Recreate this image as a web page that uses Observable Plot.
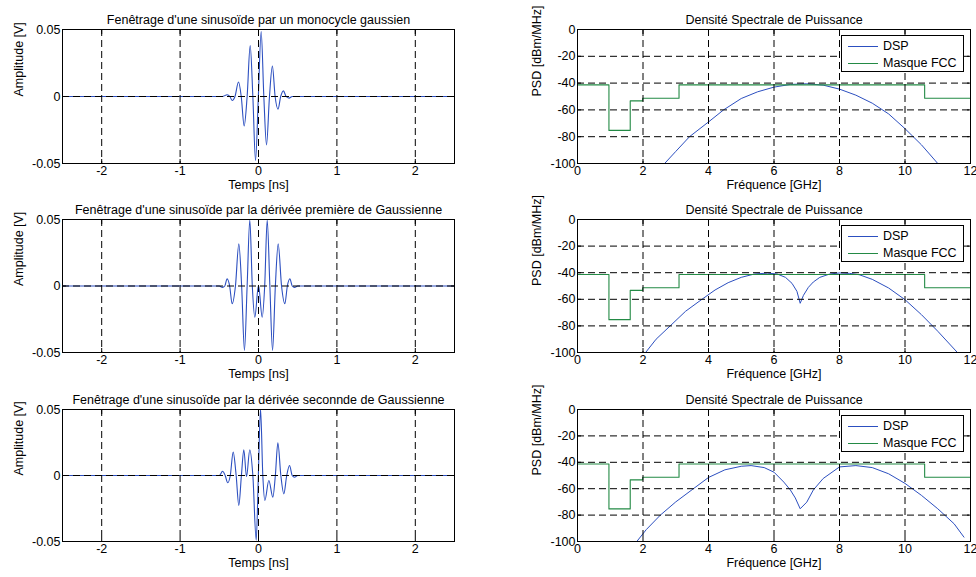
<!DOCTYPE html>
<html><head><meta charset="utf-8">
<script src="https://cdn.jsdelivr.net/npm/d3@7"></script>
<script src="https://cdn.jsdelivr.net/npm/@observablehq/plot@0.6"></script>
<style>
html,body{margin:0;padding:0;background:#fff;}
#wrap{position:relative;width:976px;height:577px;overflow:hidden;background:#fff;font-family:"Liberation Sans",Arial,sans-serif;}
.cell{position:absolute;}
.legend{position:absolute;width:121px;height:35px;border:1px solid #000;background:#fff;font-size:12.5px;color:#000;}
.legend .row{position:absolute;left:0;height:14px;line-height:14px;white-space:nowrap;}
.legend .sw{position:absolute;left:6px;width:30px;top:7px;height:0;border-top:1px solid;}
.legend .lb{position:absolute;left:41px;top:0;}
</style></head><body><div id="wrap"></div>
<script>
// ---- Waveforms (time in ns, amplitude in V) ----
const t1 = [-2.5, -0.46, -0.40, -0.365, -0.336, -0.30, -0.255, -0.22, -0.183, -0.145, -0.106, -0.072, -0.038, -0.002, 0.034, 0.068, 0.102, 0.14, 0.177, 0.212, 0.249, 0.283, 0.318, 0.352, 0.39, 0.43, 2.5];
const a1 = [0, 0, 0.0013, 0, -0.003, 0, 0.0108, 0, -0.022, 0, 0.038, 0, -0.0478, 0, 0.0485, 0, -0.0362, 0, 0.0228, 0, -0.0095, 0, 0.0042, 0, -0.0012, 0, 0];

const t2 = [-2.5, -0.50, -0.46, -0.43, -0.40, -0.368, -0.336, -0.294, -0.251, -0.215, -0.179, -0.145, -0.111, -0.079, -0.047, 0, 0.047, 0.079, 0.111, 0.145, 0.179, 0.215, 0.251, 0.294, 0.336, 0.368, 0.40, 0.43, 0.46, 0.50, 2.5];
const a2 = [0, 0, -0.001, 0, 0.0054, 0, -0.0134, 0, 0.0317, 0, -0.0485, 0, 0.0495, 0, -0.0235, 0.0005, -0.0235, 0, 0.0495, 0, -0.0485, 0, 0.0317, 0, -0.0134, 0, 0.0054, 0, -0.001, 0, 0];

const t3 = [-2.5, -0.50, -0.458, -0.425, -0.392, -0.36, -0.323, -0.285, -0.251, -0.218, -0.187, -0.153, -0.111, -0.072, -0.029, -0.002, 0.026, 0.055, 0.081, 0.132, 0.183, 0.215, 0.247, 0.285, 0.323, 0.36, 0.396, 0.43, 0.46, 0.50, 2.5];
const a3 = [0, 0, 0.0032, 0, -0.0055, 0, 0.0177, 0, -0.0227, 0, 0.0195, -0.001, 0.0195, 0, -0.049, 0, 0.0505, 0, -0.0189, -0.0038, -0.0164, 0, 0.0248, 0, -0.0139, 0, 0.0076, 0, -0.0013, 0, 0];

// ---- Power spectral densities (GHz, dBm/MHz) ----
const f1 = [2.66, 3.0, 3.42, 4.0, 4.46, 5.0, 5.5, 6.0, 6.5, 7.0, 7.5, 8.0, 8.5, 9.0, 9.5, 10.0, 10.5, 11.0];
const p1 = [-100, -91, -80, -69, -60, -51.5, -46.5, -43, -41, -40.5, -41.5, -44.5, -49, -55, -63, -74, -86, -100];

const f2 = [2.08, 2.4, 2.83, 3.3, 3.8, 4.2, 4.6, 5.0, 5.4, 5.8, 6.1, 6.35, 6.55, 6.7, 6.8, 6.9, 7.05, 7.2, 7.4, 7.7, 8.0, 8.3, 8.6, 9.0, 9.5, 10.0, 10.5, 11.0, 11.6];
const p2 = [-100, -90, -80, -69, -60, -53, -47.5, -43.5, -41, -40.3, -41, -43.5, -48, -54, -63, -57, -51, -47, -43.5, -41, -40.2, -40.5, -41.5, -45, -51.5, -60.3, -71.5, -84, -100];

const f3 = [1.81, 2.1, 2.53, 3.0, 3.54, 4.0, 4.5, 5.0, 5.3, 5.7, 6.0, 6.3, 6.5, 6.65, 6.8, 7.0, 7.2, 7.5, 8.0, 8.5, 9.0, 9.5, 10.0, 10.5, 11.0, 11.5, 11.8];
const p3 = [-100, -91, -80, -70, -60, -51.5, -45.7, -43, -42.5, -44, -47.5, -55, -61, -67, -75.2, -70.2, -61, -52.3, -43.5, -42.5, -44, -48.7, -56, -65, -75.2, -86.6, -96.7];

// ---- FCC indoor mask (step after) ----
const maskF = [0, 0.96, 1.61, 1.99, 3.1, 10.6, 12];
const maskP = [-41.3, -75.3, -53.3, -51.3, -41.3, -51.3, -51.3];

// ---- Ticks and labels ----
const timeTicks = [-2, -1, 0, 1, 2];
const timeTickLabels = ["-2", "-1", "0", "1", "2"];
const ampTicks = [-0.05, 0, 0.05];
const ampTickLabels = ["-0.05", "0", "0.05"];
const freqTicks = [0, 2, 4, 6, 8, 10, 12];
const freqTickLabels = ["0", "2", "4", "6", "8", "10", "12"];
const psdTicks = [-100, -80, -60, -40, -20, 0];
const psdTickLabels = ["-100", "-80", "-60", "-40", "-20", "0"];

const leftTitles = [
  "Fenêtrage d'une sinusoïde par un monocycle gaussien",
  "Fenêtrage d'une sinusoïde par la dérivée première de Gaussienne",
  "Fenêtrage d'une sinusoïde par la dérivée seconnde de Gaussienne"
];
const rightTitle = "Densité Spectrale de Puissance";
const timeLabel = "Temps [ns]";
const ampLabel = "Amplitude [V]";
const freqLabel = "Fréquence [GHz]";
const psdLabel = "PSD [dBm/MHz]";
const legendLabels = ["DSP", "Masque FCC"];

const BLUE = "#2c4fc0";
const GREEN = "#238a45";
const FONT = "'Liberation Sans', Arial, sans-serif";

const wrap = document.getElementById("wrap");

const rows = [
  {top: 0, height: 190, mB: 27},
  {top: 190, height: 190, mB: 28},
  {top: 380, height: 197, mB: 36}
];

function fmt(ticks, labels) { return d => { const i = ticks.indexOf(d); return i < 0 ? "" : labels[i]; }; }

function panel(o) {
  const marks = [
    ...o.series,
    Plot.gridX(o.xTicks, {stroke: "#000", strokeOpacity: 1, strokeWidth: 1, strokeDasharray: "7,4"}),
    Plot.gridY(o.yTicks, {stroke: "#000", strokeOpacity: 1, strokeWidth: 1, strokeDasharray: "7,4"}),
    Plot.frame({stroke: "#000", strokeWidth: 1}),
    Plot.axisX(o.xTicks, {anchor: "bottom", tickSize: -4, tickPadding: 7, tickFormat: fmt(o.xTicks, o.xLabels), label: null}),
    Plot.axisX(o.xTicks, {anchor: "top", tickSize: -4, tickFormat: () => "", label: null}),
    Plot.axisY(o.yTicks, {anchor: "left", tickSize: -4, tickPadding: 6, tickFormat: fmt(o.yTicks, o.yLabels), label: null}),
    Plot.axisY(o.yTicks, {anchor: "right", tickSize: -4, tickFormat: () => "", label: null}),
    Plot.text([o.title], {frameAnchor: "top", dy: -14, text: d => d, fill: "#000"}),
    Plot.text([o.xLabel], {frameAnchor: "bottom", dy: 25, text: d => d, fill: "#000"}),
    Plot.text([o.yLabel], {frameAnchor: "left", dx: o.yLabelDx, rotate: -90, text: d => d, fill: "#000"})
  ];
  const p = Plot.plot({
    width: o.width, height: o.height,
    marginLeft: o.mL, marginRight: o.mR, marginTop: o.mT, marginBottom: o.mB,
    x: {domain: o.xDomain},
    y: {domain: o.yDomain},
    style: {fontFamily: FONT, fontSize: "12.5px", background: "transparent", overflow: "visible", color: "#000"},
    marks
  });
  const cell = document.createElement("div");
  cell.className = "cell";
  cell.style.left = o.left + "px";
  cell.style.top = o.top + "px";
  cell.style.width = o.width + "px";
  cell.style.height = o.height + "px";
  cell.appendChild(p);
  wrap.appendChild(cell);
}

const waves = [[t1, a1], [t2, a2], [t3, a3]];
const dsps = [[f1, p1], [f2, p2], [f3, p3]];
const maskData = maskF.map((f, i) => ({f, p: maskP[i]}));

rows.forEach((r, k) => {
  const [tt, aa] = waves[k];
  const wave = tt.map((t, i) => ({t, a: aa[i]}));
  panel({
    left: 0, top: r.top, width: 490, height: r.height,
    mL: 62, mR: 36, mT: 29, mB: r.mB,
    xDomain: [-2.5, 2.5], yDomain: [-0.05, 0.05],
    xTicks: timeTicks, xLabels: timeTickLabels, yTicks: ampTicks, yLabels: ampTickLabels,
    title: leftTitles[k], xLabel: timeLabel, yLabel: ampLabel, yLabelDx: -44,
    series: [Plot.line(wave, {x: "t", y: "a", stroke: BLUE, strokeWidth: 1.1, curve: "monotone-x", clip: true})]
  });
  const [ff, pp] = dsps[k];
  const dsp = ff.map((f, i) => ({f, p: pp[i]}));
  panel({
    left: 490, top: r.top, width: 486, height: r.height,
    mL: 87, mR: 6, mT: 29, mB: r.mB,
    xDomain: [0, 12], yDomain: [-100, 0],
    xTicks: freqTicks, xLabels: freqTickLabels, yTicks: psdTicks, yLabels: psdTickLabels,
    title: rightTitle, xLabel: freqLabel, yLabel: psdLabel, yLabelDx: -41,
    series: [
      Plot.line(dsp, {x: "f", y: "p", stroke: BLUE, strokeWidth: 1, clip: true}),
      Plot.line(maskData, {x: "f", y: "p", stroke: GREEN, strokeWidth: 1.1, curve: "step-after", clip: true})
    ]
  });
  // legend
  const lg = document.createElement("div");
  lg.className = "legend";
  lg.style.left = "841px";
  lg.style.top = (r.top + 35) + "px";
  [BLUE, GREEN].forEach((c, i) => {
    const row = document.createElement("div");
    row.className = "row";
    row.style.top = (3 + i * 16.7) + "px";
    row.innerHTML = `<div class="sw" style="border-color:${c}"></div><div class="lb">${legendLabels[i]}</div>`;
    lg.appendChild(row);
  });
  wrap.appendChild(lg);
});
</script></body></html>
